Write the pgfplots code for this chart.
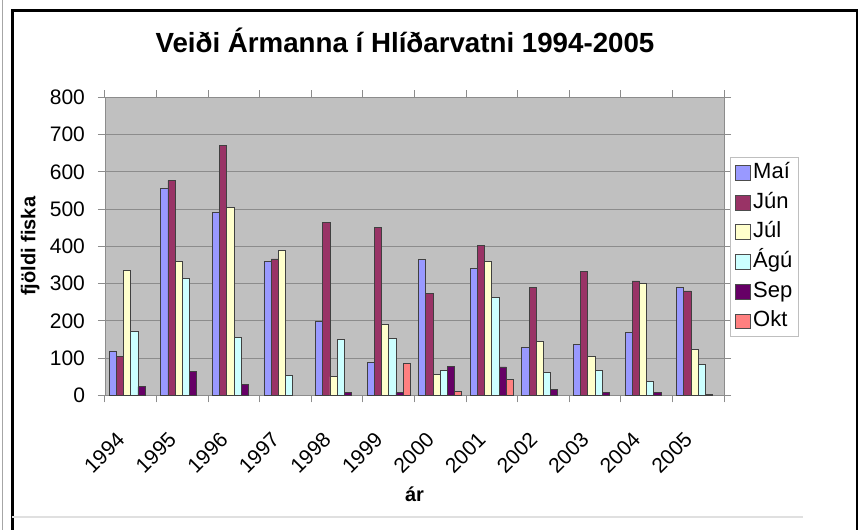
\documentclass[border=0pt]{standalone}
\usepackage{pgfplots}
\pgfplotsset{compat=1.18}
\usepackage{fontspec}
\setmainfont{Liberation Sans}
\definecolor{cMai}{HTML}{9999FF}
\definecolor{cJun}{HTML}{993366}
\definecolor{cJul}{HTML}{FFFFCC}
\definecolor{cAgu}{HTML}{CCFFFF}
\definecolor{cSep}{HTML}{660066}
\definecolor{cOkt}{HTML}{FF8080}
\definecolor{plotbg}{HTML}{C0C0C0}
\begin{document}
\begin{tikzpicture}
\useasboundingbox (0,0) rectangle (429pt,265pt);
\begin{scope}
\clip (0,0) rectangle (429pt,265pt);
\draw[black!35, line width=0.5pt] (1pt,0) -- (1pt,265pt);
\draw[line width=1.5pt] (6pt,-2pt) -- (6pt,259.5pt) -- (428.5pt,259.5pt) -- (428.5pt,-2pt);
\draw[black!12, line width=0.8pt] (6pt,6.5pt) -- (401.5pt,6.5pt);
\end{scope}
\node[font=\bfseries\fontsize{13.85}{16}\selectfont] at (202.5pt,245pt) {Veiði Ármanna í Hlíðarvatni 1994-2005};
\begin{axis}[
  at={(52.5pt,67.35pt)}, anchor=south west,
  scale only axis, width=309.5pt, height=149pt,
  ybar=0pt, bar width=3.6pt,
  xmin=-0.5, xmax=11.5, ymin=0, ymax=800,
  ytick={0,100,...,800},
  xtick={-0.5,0.5,...,11.5}, xticklabels={},
  extra x ticks={0,1,2,3,4,5,6,7,8,9,10,11},
  extra x tick labels={1994,1995,1996,1997,1998,1999,2000,2001,2002,2003,2004,2005},
  extra x tick style={tick style={draw=none}},
  ymajorgrids, major grid style={black!45, line width=0.5pt},
  axis background/.style={fill=plotbg},
  axis line style={black!45},
  tick align=outside, major tick length=3.5pt,
  tick style={black!45, line width=0.5pt},
  /pgf/number format/assume math mode=true,
  tick label style={font=\fontsize{10.5}{12}\selectfont},
  yticklabel style={xshift=-3pt},
  xticklabel style={xshift=-2.5pt, yshift=-14.5pt, rotate=45, anchor=east},
  ylabel={fjöldi fiska}, xlabel={ár},
  ylabel style={font=\bfseries\fontsize{10}{12}\selectfont, at={(axis description cs:-0.121,0.5)}, anchor=center},
  xlabel style={font=\bfseries\fontsize{10}{12}\selectfont, at={(axis description cs:0.5,-0.331)}, anchor=center},
  legend image code/.code={\draw[#1, draw=black!70, line width=0.4pt] (0pt,-3.7pt) rectangle (7.8pt,3.7pt);},
  legend cell align=left,
  legend style={at={(axis description cs:1.0097,0.7997)}, anchor=north west,
    draw=black!25, fill=white, font=\fontsize{11}{13}\selectfont,
    inner xsep=2.2pt, inner ysep=1.5pt, row sep=2.35pt,
    nodes={inner sep=1pt, text height=8pt, text depth=2.5pt}},
  every axis plot/.append style={draw=black!75, line width=0.4pt},
]
\addplot[fill=cMai] coordinates {(0,119) (1,556) (2,491) (3,360) (4,198) (5,89) (6,365) (7,341) (8,129) (9,137) (10,168) (11,289)};
\addplot[fill=cJun] coordinates {(0,105) (1,577) (2,670) (3,366) (4,464) (5,450) (6,274) (7,402) (8,289) (9,333) (10,307) (11,280)};
\addplot[fill=cJul] coordinates {(0,335) (1,360) (2,504) (3,390) (4,50) (5,190) (6,57) (7,360) (8,144) (9,104) (10,300) (11,124)};
\addplot[fill=cAgu] coordinates {(0,172) (1,314) (2,156) (3,53) (4,150) (5,152) (6,66) (7,263) (8,62) (9,67) (10,38) (11,84)};
\addplot[fill=cSep] coordinates {(0,23) (1,63) (2,29) (4,7) (5,8) (6,78) (7,76) (8,16) (9,7) (10,7) (11,3)};
\addplot[fill=cOkt] coordinates {(5,86) (6,10) (7,43)};
\legend{Maí,Jún,Júl,Ágú,Sep,Okt}
\end{axis}
\end{tikzpicture}
\end{document}
